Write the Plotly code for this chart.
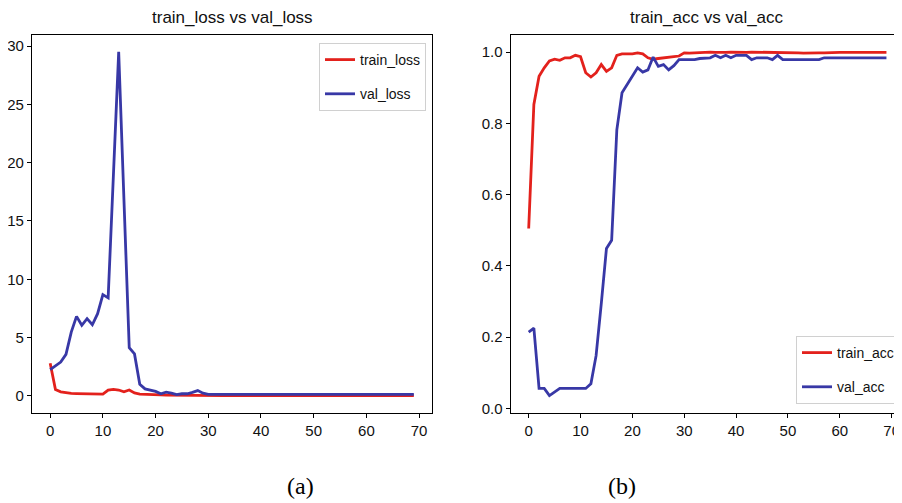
import plotly.graph_objects as go

epochs = list(range(70))

train_loss = [2.8, 0.55, 0.35, 0.27, 0.22, 0.2, 0.2, 0.18, 0.17, 0.16, 0.15, 0.5, 0.55, 0.5, 0.35, 0.5,
              0.25, 0.15, 0.12, 0.1, 0.09, 0.08, 0.07, 0.06, 0.05, 0.05, 0.04, 0.04, 0.04, 0.03] + [0.02] * 40

val_loss = [2.25, 2.6, 2.9, 3.56, 5.47, 6.82, 6.05, 6.62, 6.1, 7.05, 8.68, 8.4, 18.6, 29.5, 16.8, 4.13,
            3.6, 1.0, 0.6, 0.5, 0.38, 0.18, 0.32, 0.23, 0.1, 0.18, 0.18, 0.3, 0.45, 0.23] + [0.12] * 40

train_acc = [0.505, 0.853, 0.932, 0.956, 0.975, 0.98, 0.977, 0.984, 0.984, 0.991, 0.987, 0.942, 0.93,
             0.942, 0.965, 0.946, 0.956, 0.991, 0.995, 0.995, 0.995, 0.998, 0.995, 0.984, 0.98, 0.982,
             0.983, 0.984, 0.987, 0.989, 0.998, 0.997, 0.998, 0.998, 0.999, 1.0, 0.999, 0.998, 0.999,
             1.0, 0.999, 1.0, 0.999, 1.0, 1.0, 1.0, 0.999, 0.998, 1.0, 0.999, 0.999, 0.998, 0.998,
             0.997, 0.998, 0.998, 0.998, 0.998, 0.999, 0.999, 0.999, 0.999, 0.999, 0.999, 0.999, 0.999,
             0.999, 0.999, 0.999, 0.999]

val_acc = [0.214, 0.225, 0.056, 0.056, 0.036, 0.047, 0.056, 0.056, 0.056, 0.056, 0.056, 0.056, 0.069,
           0.148, 0.294, 0.449, 0.472, 0.782, 0.886, 0.909, 0.932, 0.956, 0.944, 0.95, 0.986, 0.96,
           0.965, 0.95, 0.962, 0.979, 0.979, 0.979, 0.979, 0.982, 0.984, 0.984, 0.991, 0.984, 0.991,
           0.984, 0.991, 0.991, 0.991, 0.979, 0.984, 0.984, 0.984, 0.979, 0.991, 0.979, 0.979, 0.979,
           0.979, 0.979, 0.979, 0.979, 0.979, 0.984, 0.984, 0.984, 0.984, 0.984, 0.984, 0.984, 0.984,
           0.984, 0.984, 0.984, 0.984, 0.984]

x_ticks = [0, 10, 20, 30, 40, 50, 60, 70]
loss_ticks = [0, 5, 10, 15, 20, 25, 30]
acc_ticks = [0.0, 0.2, 0.4, 0.6, 0.8, 1.0]
acc_tick_text = ["0.0", "0.2", "0.4", "0.6", "0.8", "1.0"]

RED = "#e3211c"
BLUE = "#3838a6"
OFF = 8  # page body margin offset
W, H = 902 - OFF, 503 - OFF
FONT = "Liberation Sans, Arial, sans-serif"


def fx(px):
    return (px - OFF) / W


def fy(py):
    return 1 - (py - OFF) / H


fig = go.Figure()
fig.add_trace(go.Scatter(x=epochs, y=train_loss, mode="lines", name="train_loss",
                         line=dict(color=RED, width=2.8), xaxis="x", yaxis="y",
                         legend="legend", legendgroup="a"))
fig.add_trace(go.Scatter(x=epochs, y=val_loss, mode="lines", name="val_loss",
                         line=dict(color=BLUE, width=2.8), xaxis="x", yaxis="y",
                         legend="legend", legendgroup="b"))
fig.add_trace(go.Scatter(x=epochs, y=train_acc, mode="lines", name="train_acc",
                         line=dict(color=RED, width=2.8), xaxis="x2", yaxis="y2",
                         legend="legend2", legendgroup="c"))
fig.add_trace(go.Scatter(x=epochs, y=val_acc, mode="lines", name="val_acc",
                         line=dict(color=BLUE, width=2.8), xaxis="x2", yaxis="y2",
                         legend="legend2", legendgroup="d"))

ydom = [fy(413), fy(35)]
axis_common = dict(showgrid=False, zeroline=False, showline=True, linecolor="black", linewidth=1.3,
                   ticks="outside", ticklen=4, tickcolor="black", tickwidth=1.2, automargin=False,
                   ticklabeloverflow="allow",
                   tickfont=dict(family=FONT, size=15, color="#111"))

legend_common = dict(font=dict(family=FONT, size=14, color="#111"), bgcolor="white",
                     bordercolor="#d0d0d0", borderwidth=1, itemwidth=30, tracegroupgap=13,
                     traceorder="grouped")

fig.update_layout(
    width=W, height=H, margin=dict(l=0, r=0, t=0, b=0, autoexpand=False),
    paper_bgcolor="white", plot_bgcolor="white", showlegend=True,
    xaxis=dict(domain=[fx(32), fx(432)], range=[-3.45, 72.45], tickvals=x_ticks,
               anchor="y", mirror=True, **axis_common),
    yaxis=dict(domain=ydom, range=[-1.47, 30.95], tickvals=loss_ticks, anchor="x",
               mirror=True, **axis_common),
    xaxis2=dict(domain=[fx(510.8), 1.0], range=[-3.45, 72.0], tickvals=x_ticks,
                anchor="y2", mirror=True, **axis_common),
    yaxis2=dict(domain=ydom, range=[-0.013, 1.048], tickvals=acc_ticks, ticktext=acc_tick_text,
                anchor="x2", mirror=False, **axis_common),
    legend=dict(x=fx(426), xanchor="right", y=fy(43), yanchor="top", **legend_common),
    legend2=dict(x=fx(900), xanchor="right", y=fy(404), yanchor="bottom", **legend_common),
    annotations=[
        dict(text="train_loss vs val_loss", x=fx(232), y=fy(17), xref="paper", yref="paper",
             showarrow=False, xanchor="center", yanchor="middle",
             font=dict(family=FONT, size=17, color="#111")),
        dict(text="train_acc vs val_acc", x=fx(707), y=fy(17), xref="paper", yref="paper",
             showarrow=False, xanchor="center", yanchor="middle",
             font=dict(family=FONT, size=17, color="#111")),
        dict(text="(a)", x=fx(300), y=fy(486), xref="paper", yref="paper",
             showarrow=False, xanchor="center", yanchor="middle",
             font=dict(family="Liberation Serif, Times New Roman, serif", size=24, color="black")),
        dict(text="(b)", x=fx(622), y=fy(486), xref="paper", yref="paper",
             showarrow=False, xanchor="center", yanchor="middle",
             font=dict(family="Liberation Serif, Times New Roman, serif", size=24, color="black")),
    ],
)

fig.write_html("out.html")
